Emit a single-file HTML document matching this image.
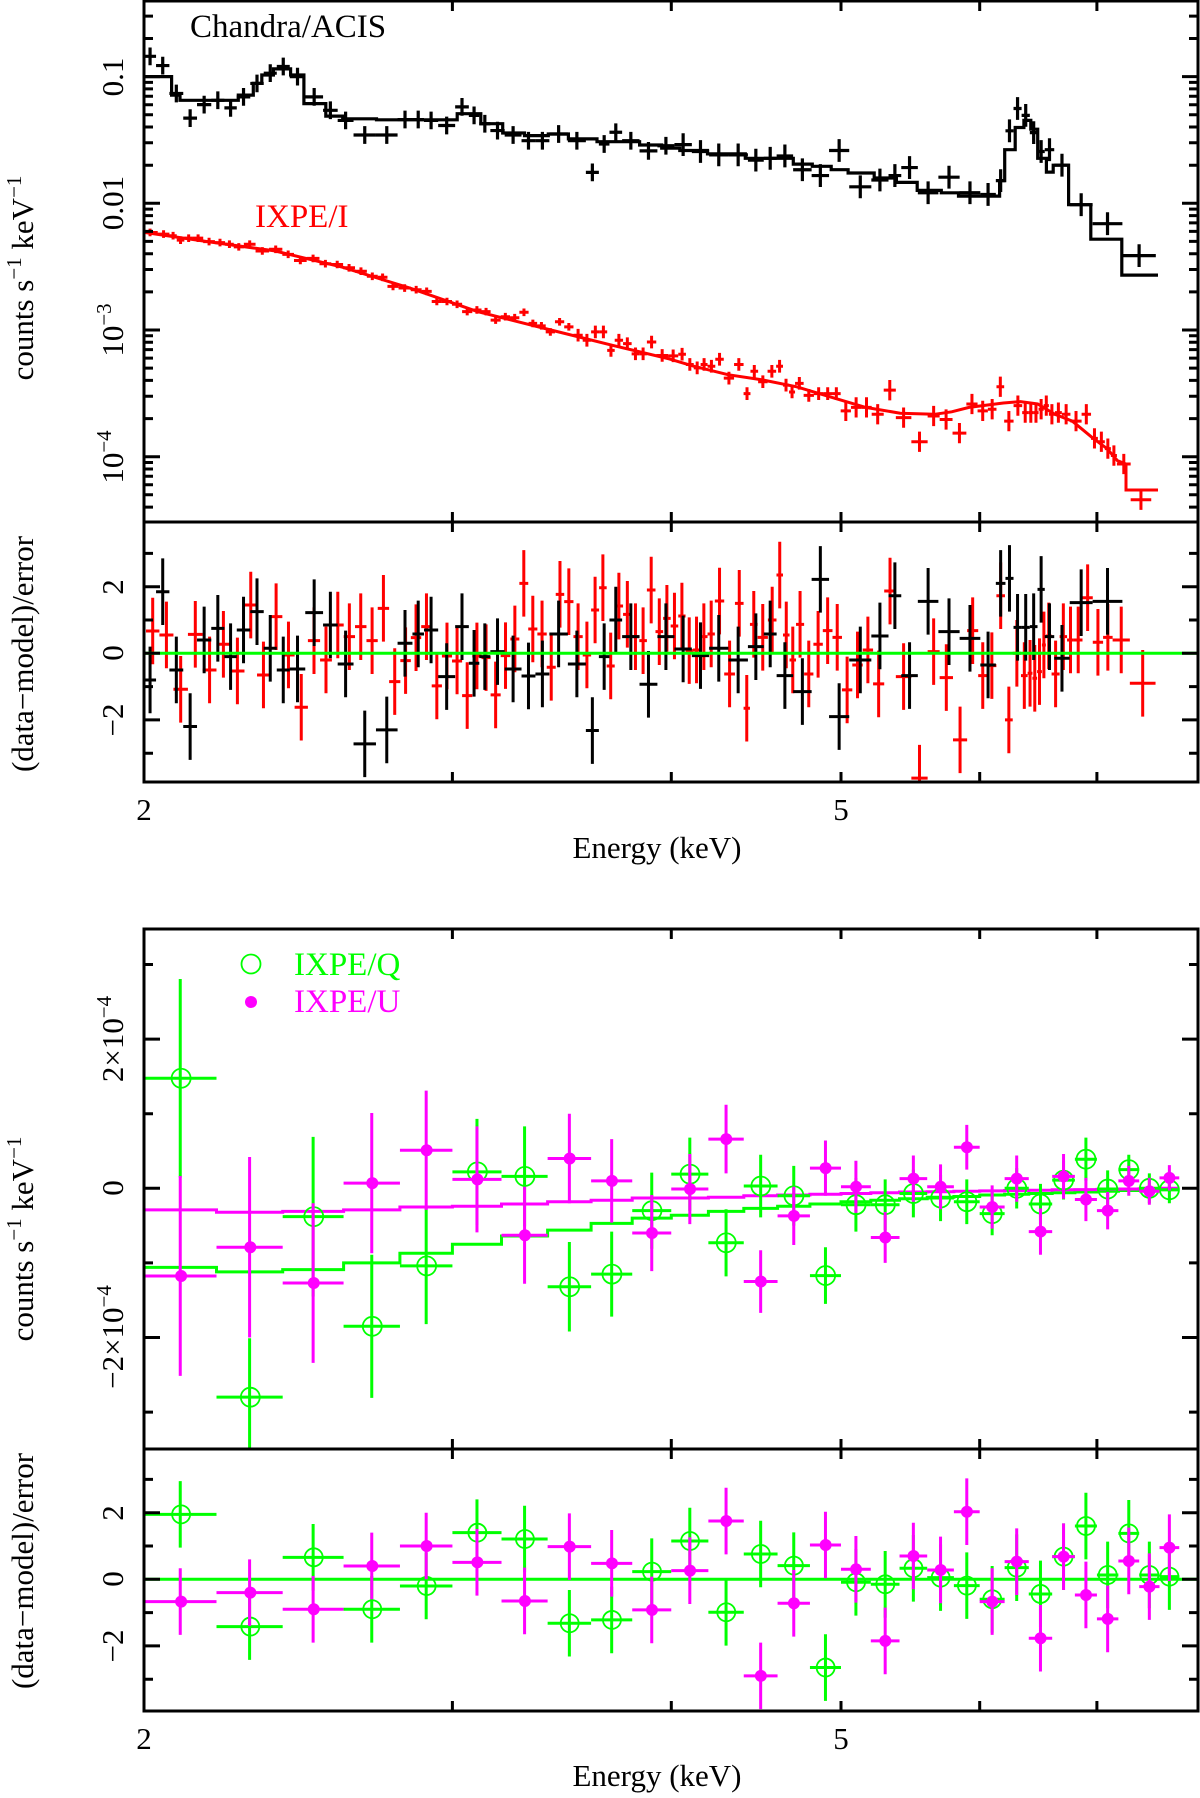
<!DOCTYPE html>
<html><head><meta charset="utf-8">
<style>
html,body{margin:0;padding:0;background:#fff;}
svg{display:block;font-family:"Liberation Serif",serif;}
</style></head>
<body>
<svg id="chart" width="1200" height="1798" viewBox="0 0 1200 1798" xmlns="http://www.w3.org/2000/svg">
<defs>
<clipPath id="cTop"><rect x="144" y="1" width="1054" height="521"/></clipPath>
<clipPath id="cR1"><rect x="144" y="522" width="1054" height="260"/></clipPath>
<clipPath id="cBot"><rect x="144" y="929" width="1054" height="520"/></clipPath>
<clipPath id="cR2"><rect x="144" y="1449" width="1054" height="262"/></clipPath>
</defs>
<g id="gTop" clip-path="url(#cTop)"></g>
<g id="gR1" clip-path="url(#cR1)"></g>
<g id="gBot" clip-path="url(#cBot)"></g>
<g id="gR2" clip-path="url(#cR2)"></g>
<g id="gAxes"></g>

<text x="190" y="37" font-size="33" fill="#000">Chandra/ACIS</text>
<text x="255" y="227" font-size="33" fill="#f00">IXPE/I</text>

<g font-size="31">
<text transform="translate(123,77) rotate(-90)" text-anchor="middle">0.1</text>
<text transform="translate(123,203) rotate(-90)" text-anchor="middle">0.01</text>
<text transform="translate(123,330) rotate(-90)" text-anchor="middle">10<tspan font-size="21" dy="-12">−3</tspan></text>
<text transform="translate(123,457) rotate(-90)" text-anchor="middle">10<tspan font-size="21" dy="-12">−4</tspan></text>
</g>
<g font-size="31">
<text transform="translate(123,587) rotate(-90)" text-anchor="middle">2</text>
<text transform="translate(123,653) rotate(-90)" text-anchor="middle">0</text>
<text transform="translate(123,720) rotate(-90)" text-anchor="middle">−2</text>
</g>
<g font-size="31">
<text transform="translate(123,1039) rotate(-90)" text-anchor="middle">2×10<tspan font-size="21" dy="-12">−4</tspan></text>
<text transform="translate(123,1188) rotate(-90)" text-anchor="middle">0</text>
<text transform="translate(123,1337) rotate(-90)" text-anchor="middle">−2×10<tspan font-size="21" dy="-12">−4</tspan></text>
</g>
<g font-size="31">
<text transform="translate(123,1513) rotate(-90)" text-anchor="middle">2</text>
<text transform="translate(123,1579) rotate(-90)" text-anchor="middle">0</text>
<text transform="translate(123,1646) rotate(-90)" text-anchor="middle">−2</text>
</g>
<g font-size="31">
<text transform="translate(33,278) rotate(-90)" text-anchor="middle">counts s<tspan font-size="21" dy="-12">−1</tspan><tspan dy="12"> keV</tspan><tspan font-size="21" dy="-12">−1</tspan></text>
<text transform="translate(33,654) rotate(-90)" text-anchor="middle">(data−model)/error</text>
<text transform="translate(33,1239) rotate(-90)" text-anchor="middle">counts s<tspan font-size="21" dy="-12">−1</tspan><tspan dy="12"> keV</tspan><tspan font-size="21" dy="-12">−1</tspan></text>
<text transform="translate(33,1571) rotate(-90)" text-anchor="middle">(data−model)/error</text>
</g>
<g font-size="31">
<text x="144" y="820" text-anchor="middle">2</text>
<text x="841" y="820" text-anchor="middle">5</text>
<text x="144" y="1749" text-anchor="middle">2</text>
<text x="841" y="1749" text-anchor="middle">5</text>
</g>
<text x="657" y="858" font-size="31" text-anchor="middle">Energy (keV)</text>
<text x="657" y="1786" font-size="31" text-anchor="middle">Energy (keV)</text>

<g>
<circle cx="251" cy="964" r="9.5" fill="none" stroke="#0f0" stroke-width="1.8"/>
<text x="294" y="975" font-size="33" fill="#0f0">IXPE/Q</text>
<circle cx="251" cy="1002" r="6" fill="#f0f"/>
<text x="294" y="1012" font-size="33" fill="#f0f">IXPE/U</text>
</g>
</svg>
<script>
// ---------- Chandra/ACIS (log10 counts s^-1 keV^-1) ----------
const chE=[2.016,2.048,2.088,2.124,2.165,2.205,2.241,2.278,2.322,2.360,2.403,2.442,2.503,2.559,2.601,2.668,2.759,2.824,2.869,2.911,2.978,3.044,3.087,3.129,3.178,3.249,3.322,3.370,3.446,3.538,3.613,3.661,3.715,3.785,3.889,3.967,4.067,4.153,4.256,4.369,4.480,4.555,4.634,4.757,4.865,4.980,5.130,5.278,5.367,5.458,5.606,5.761,5.928,6.083,6.175,6.239,6.307,6.373,6.445,6.503,6.569,6.667,6.842,7.081,7.399];
const chLog=[-0.840,-0.913,-1.133,-1.328,-1.221,-1.187,-1.247,-1.160,-1.054,-0.973,-0.920,-1.000,-1.160,-1.266,-1.346,-1.461,-1.461,-1.339,-1.339,-1.346,-1.386,-1.239,-1.306,-1.372,-1.426,-1.461,-1.506,-1.506,-1.453,-1.506,-1.756,-1.532,-1.439,-1.506,-1.586,-1.546,-1.537,-1.591,-1.618,-1.618,-1.659,-1.645,-1.626,-1.735,-1.781,-1.583,-1.870,-1.816,-1.781,-1.718,-1.917,-1.794,-1.917,-1.930,-1.821,-1.428,-1.252,-1.306,-1.442,-1.591,-1.577,-1.699,-2.011,-2.161,-2.413];
const chModEdges=[2.0,2.074,2.097,2.264,2.309,2.335,2.371,2.425,2.468,2.540,2.597,2.715,3.019,3.114,3.205,3.298,3.403,3.494,3.628,3.837,3.95,4.045,4.195,4.409,4.696,4.815,4.936,5.047,5.223,5.378,5.527,5.705,5.835,6.159,6.201,6.287,6.359,6.417,6.476,6.550,6.609,6.744,6.944,7.233,7.585];
const chModLog=[-1.000,-1.146,-1.187,-1.146,-1.054,-0.987,-0.939,-0.987,-1.213,-1.312,-1.333,-1.341,-1.293,-1.372,-1.445,-1.466,-1.453,-1.492,-1.514,-1.540,-1.564,-1.583,-1.610,-1.645,-1.691,-1.708,-1.735,-1.761,-1.800,-1.835,-1.898,-1.917,-1.943,-1.821,-1.577,-1.402,-1.346,-1.415,-1.645,-1.754,-1.699,-2.011,-2.283,-2.567];
const chRes=[-0.8,1.85,-0.5,-2.2,0.4,0.75,-0.1,0.7,1.25,0.15,-0.5,-0.47,1.22,0.85,-0.32,-2.72,-2.3,0.3,0.58,0.7,-0.7,0.8,-0.3,-0.1,0.05,-0.47,-0.68,-0.62,0.58,-0.32,-2.32,-0.1,1.0,0.5,-0.93,0.5,0.13,-0.07,0.15,-0.2,0.2,0.58,-0.67,-1.15,2.22,-1.9,-0.2,0.52,1.73,-0.67,1.56,0.65,0.45,-0.35,2.1,2.25,0.78,0.78,0.8,1.92,0.5,-0.15,1.52,1.56];
// ---------- IXPE/I ----------
const ixE=[2.016,2.057,2.079,2.097,2.121,2.145,2.179,2.212,2.238,2.263,2.298,2.334,2.381,2.417,2.455,2.499,2.539,2.578,2.619,2.660,2.702,2.737,2.772,2.818,2.862,2.900,2.939,2.979,3.018,3.059,3.100,3.134,3.175,3.218,3.254,3.298,3.334,3.373,3.410,3.456,3.494,3.541,3.580,3.620,3.661,3.693,3.734,3.775,3.819,3.852,3.896,3.948,4.019,4.055,4.101,4.139,4.176,4.215,4.262,4.310,4.379,4.419,4.459,4.509,4.571,4.612,4.654,4.686,4.728,4.793,4.858,4.913,4.970,5.026,5.106,5.165,5.247,5.331,5.417,5.553,5.654,5.731,5.849,5.943,6.024,6.106,6.162,6.231,6.316,6.374,6.417,6.461,6.505,6.549,6.594,6.654,6.715,6.806,6.915,6.977,7.041,7.105,7.154,7.219,7.417];
const ixLog=[-2.230,-2.243,-2.256,-2.291,-2.275,-2.275,-2.302,-2.310,-2.323,-2.344,-2.323,-2.376,-2.363,-2.403,-2.451,-2.435,-2.477,-2.483,-2.509,-2.536,-2.576,-2.584,-2.656,-2.669,-2.682,-2.695,-2.775,-2.775,-2.797,-2.855,-2.842,-2.855,-2.922,-2.895,-2.903,-2.860,-2.948,-2.967,-3.015,-2.935,-2.975,-3.041,-3.081,-3.015,-3.015,-3.161,-3.081,-3.108,-3.188,-3.188,-3.095,-3.201,-3.204,-3.191,-3.272,-3.299,-3.272,-3.286,-3.231,-3.380,-3.272,-3.502,-3.326,-3.408,-3.326,-3.286,-3.435,-3.489,-3.421,-3.516,-3.502,-3.502,-3.502,-3.638,-3.611,-3.611,-3.665,-3.475,-3.692,-3.882,-3.679,-3.706,-3.814,-3.584,-3.638,-3.625,-3.448,-3.719,-3.597,-3.652,-3.652,-3.652,-3.625,-3.597,-3.665,-3.652,-3.665,-3.719,-3.665,-3.855,-3.882,-3.936,-3.991,-4.058,-4.340];
const ixModE=[2.0,2.174,2.375,2.596,2.837,3.100,3.388,3.702,3.99,4.120,4.310,4.509,4.717,4.936,5.165,5.405,5.654,5.783,5.916,6.190,6.331,6.476,6.624,6.776,6.870,6.965,7.093,7.191,7.273,7.273,7.585];
const ixModLog=[-2.230,-2.302,-2.376,-2.504,-2.669,-2.855,-2.988,-3.121,-3.228,-3.286,-3.353,-3.394,-3.448,-3.530,-3.611,-3.657,-3.665,-3.646,-3.611,-3.576,-3.565,-3.584,-3.665,-3.719,-3.787,-3.855,-3.936,-4.031,-4.058,-4.263,-4.263];
const ixrE=[2.023,2.059,2.099,2.139,2.182,2.218,2.263,2.302,2.339,2.381,2.417,2.459,2.503,2.539,2.582,2.619,2.660,2.699,2.740,2.781,2.822,2.859,2.900,2.939,2.979,3.018,3.059,3.100,3.134,3.175,3.218,3.257,3.295,3.334,3.375,3.417,3.456,3.494,3.541,3.580,3.620,3.656,3.693,3.734,3.775,3.819,3.852,3.896,3.940,3.975,4.019,4.055,4.097,4.134,4.176,4.215,4.257,4.320,4.379,4.419,4.453,4.509,4.575,4.612,4.654,4.692,4.734,4.793,4.851,4.913,4.976,5.037,5.113,5.177,5.254,5.331,5.417,5.553,5.654,5.731,5.856,5.948,6.029,6.092,6.175,6.231,6.302,6.368,6.413,6.449,6.492,6.531,6.560,6.630,6.700,6.761,6.822,6.915,7.009,7.105,7.187,7.434];
const ixRes=[0.67,0.55,-1.08,0.57,-0.5,0.27,-0.53,1.45,-0.65,1.1,-0.05,-1.62,0.38,-0.2,0.85,0.5,0.8,0.38,1.35,-0.85,-0.22,0.47,0.8,-0.98,-0.08,-0.23,-1.27,-0.08,-0.13,-1.25,-0.07,0.43,2.1,0.73,0.58,-0.42,1.77,1.55,0.5,-0.05,1.3,1.97,-0.38,1.42,1.17,0.5,0.38,1.9,0.65,1.05,0.82,1.12,0.08,0.1,0.5,0.58,1.57,-0.62,1.5,-1.65,0.87,0.48,1.0,2.35,0.55,-0.2,0.87,-0.62,0.27,0.68,0.48,-1.1,-0.35,0.1,-0.92,1.87,-0.7,-3.75,0.05,-0.73,-2.6,0.68,-0.67,-0.37,1.73,-2.0,0.0,-0.67,-0.6,-0.75,-0.55,0.25,0.52,-0.62,0.5,0.4,0.4,1.67,0.33,0.48,0.4,-0.9];
// ---------- IXPE Q / U (units of 1e-4) ----------
const quE=[2.1,2.3,2.5,2.7,2.9,3.1,3.3,3.5,3.7,3.9,4.1,4.3,4.5,4.7,4.9,5.1,5.3,5.5,5.7,5.9,6.1,6.3,6.5,6.7,6.9,7.1,7.3,7.5,7.7];
const qVal=[1.475,-2.80,-0.38,-1.85,-1.04,0.22,0.16,-1.32,-1.15,-0.30,0.19,-0.73,0.03,-0.10,-1.17,-0.22,-0.22,-0.07,-0.13,-0.18,-0.34,0,-0.21,0.11,0.39,-0.01,0.25,0,-0.02];
const qErr=[1.33,0.79,1.07,0.96,0.78,0.71,0.67,0.60,0.57,0.51,0.49,0.45,0.42,0.40,0.38,0.36,0.34,0.32,0.31,0.30,0.29,0.27,0.27,0.26,0.29,0.25,0.20,0.20,0.18];
const uVal=[-1.175,-0.79,-1.27,0.07,0.51,0.12,-0.63,0.40,0.10,-0.60,-0.01,0.66,-1.25,-0.37,0.27,0.02,-0.66,0.13,0.02,0.55,-0.25,0.13,-0.58,0.16,-0.15,-0.30,0.10,-0.04,0.14];
const uErr=[1.34,1.21,1.07,0.94,0.80,0.71,0.65,0.60,0.56,0.51,0.47,0.46,0.42,0.39,0.37,0.35,0.34,0.31,0.30,0.30,0.29,0.31,0.31,0.30,0.29,0.25,0.20,0.18,0.17];
const qMod=[-1.06,-1.12,-1.09,-1.0,-0.87,-0.75,-0.64,-0.56,-0.47,-0.40,-0.36,-0.31,-0.27,-0.24,-0.21,-0.18,-0.16,-0.14,-0.12,-0.11,-0.09,-0.08,-0.07,-0.06,-0.05,-0.04,-0.03,-0.02,-0.02];
const uMod=[-0.29,-0.32,-0.31,-0.29,-0.25,-0.24,-0.21,-0.18,-0.16,-0.13,-0.13,-0.12,-0.10,-0.09,-0.08,-0.07,-0.06,-0.05,-0.045,-0.04,-0.035,-0.03,-0.025,-0.02,-0.018,-0.015,-0.01,-0.005,0];
const qRes=[1.95,-1.42,0.66,-0.9,-0.2,1.4,1.21,-1.32,-1.22,0.23,1.15,-0.99,0.76,0.41,-2.65,-0.09,-0.15,0.33,0.05,-0.19,-0.6,0.35,-0.44,0.68,1.6,0.13,1.38,0.13,0.08];
const uRes=[-0.67,-0.4,-0.9,0.4,1.0,0.51,-0.65,0.98,0.48,-0.92,0.26,1.75,-2.9,-0.72,1.03,0.3,-1.85,0.7,0.28,2.03,-0.67,0.53,-1.77,0.68,-0.47,-1.19,0.55,-0.22,0.95];
const xTicks=[3,4,5,6,7];

// ---------- axes functions ----------
const X=e=>144+Math.log10(e/2)*1751.5;
const YT=l=>203.3-(l+2)*126.7;
const YR1=r=>653.3-r*33.3;
const YB=v=>1188.3-v*74.6;
const YR2=r=>1579.3-r*33.3;
const NS='http://www.w3.org/2000/svg';
function mk(tag,attrs,parent){const el=document.createElementNS(NS,tag);for(const k in attrs)el.setAttribute(k,attrs[k]);parent.appendChild(el);return el;}
function halfW(arr,i){const l=Math.log10(arr[i]);const p=i>0?Math.log10(arr[i-1]):null;const n=i<arr.length-1?Math.log10(arr[i+1]):null;
  const lo=p!==null?(l+p)/2:l-(n-l)/2; const hi=n!==null?(l+n)/2:l+(l-p)/2; return [2*Math.pow(10,lo),2*Math.pow(10,hi)].map(v=>v/2);}
function cross(g,x1,x2,y,yt,yb,color,w,name){
  const p=mk('path',{d:`M${x1},${y}H${x2}M${(x1+x2)/2},${yt}V${yb}`,stroke:color,'stroke-width':w,fill:'none'},g);
  
  
  return p;}
const gTop=document.getElementById('gTop'),gR1=document.getElementById('gR1'),gBot=document.getElementById('gBot'),gR2=document.getElementById('gR2'),gAx=document.getElementById('gAxes');

// ---------- top panel ----------
(function(){
  let d='';
  for(let i=0;i<ixModE.length;i++){d+=(i?'L':'M')+X(ixModE[i]).toFixed(1)+','+YT(ixModLog[i]).toFixed(1);}
  const m=mk('path',{d:d,stroke:'#f00','stroke-width':3,fill:'none'},gTop);
  
  
  ixE.forEach((e,i)=>{const [a,b]=halfW(ixE,i);const err=e<3.5?0.03:(e<5?0.05:0.08);
    const xm=X(e);cross(gTop,X(a),X(b),YT(ixLog[i]),YT(ixLog[i]+err),YT(ixLog[i]-err),'#f00',3,'ixpe-i-point');});
  let s='';
  for(let i=0;i<chModLog.length&&i+1<chModEdges.length;i++){const y=YT(chModLog[i]).toFixed(1);
    s+=(i?'L':'M')+X(chModEdges[i]).toFixed(1)+','+y+'L'+X(chModEdges[i+1]).toFixed(1)+','+y;}
  const cm=mk('path',{d:s,stroke:'#000','stroke-width':3.2,fill:'none'},gTop);
  
  
  chE.forEach((e,i)=>{const [a,b]=halfW(chE,i);const err=e<4?0.07:0.09;
    cross(gTop,X(a),X(b),YT(chLog[i]),YT(chLog[i]+err),YT(chLog[i]-err),'#000',3.2,'chandra-point');});
})();
// ---------- residual panel 1 ----------
(function(){
  ixrE.forEach((e,i)=>{const [a,b]=halfW(ixrE,i);cross(gR1,X(a),X(b),YR1(ixRes[i]),YR1(ixRes[i]+1),YR1(ixRes[i]-1),'#f00',3,'ixpe-i-residual');});
  chE.forEach((e,i)=>{if(i>=chRes.length)return;const [a,b]=halfW(chE,i);cross(gR1,X(a),X(b),YR1(chRes[i]),YR1(chRes[i]+1),YR1(chRes[i]-1),'#000',3,'chandra-residual');});
  const z=mk('line',{x1:144,x2:1198,y1:YR1(0),y2:YR1(0),stroke:'#0f0','stroke-width':3},gR1);
  
  
})();
// ---------- Q/U panel ----------
(function(){
  function step(vals,color,name){let s='';vals.forEach((v,i)=>{const y=YB(v).toFixed(1);s+=(i?'L':'M')+X(quE[i]-0.1).toFixed(1)+','+y+'L'+X(quE[i]+0.1).toFixed(1)+','+y;});
    const p=mk('path',{d:s,stroke:color,'stroke-width':3,fill:'none'},gBot);}
  step(qMod,'#0f0','q-model');step(uMod,'#f0f','u-model');
  quE.forEach((e,i)=>{
    cross(gBot,X(e-0.1),X(e+0.1),YB(qVal[i]),YB(qVal[i]+qErr[i]),YB(qVal[i]-qErr[i]),'#0f0',3,'q-point');
    const c=mk('circle',{cx:X(e),cy:YB(qVal[i]),r:9.5,fill:'none',stroke:'#0f0','stroke-width':1.8},gBot);
    
    
  });
  quE.forEach((e,i)=>{
    cross(gBot,X(e-0.1),X(e+0.1),YB(uVal[i]),YB(uVal[i]+uErr[i]),YB(uVal[i]-uErr[i]),'#f0f',3,'u-point');
    const c=mk('circle',{cx:X(e),cy:YB(uVal[i]),r:6,fill:'#f0f'},gBot);
    
    
  });
})();
// ---------- residual panel 2 ----------
(function(){
  const z=mk('line',{x1:144,x2:1198,y1:YR2(0),y2:YR2(0),stroke:'#0f0','stroke-width':3},gR2);
  
  
  quE.forEach((e,i)=>{
    cross(gR2,X(e-0.1),X(e+0.1),YR2(qRes[i]),YR2(qRes[i]+1),YR2(qRes[i]-1),'#0f0',3,'q-residual');
    const c=mk('circle',{cx:X(e),cy:YR2(qRes[i]),r:9,fill:'none',stroke:'#0f0','stroke-width':1.8},gR2);
    
    
  });
  quE.forEach((e,i)=>{
    cross(gR2,X(e-0.1),X(e+0.1),YR2(uRes[i]),YR2(uRes[i]+1),YR2(uRes[i]-1),'#f0f',3,'u-residual');
    const c=mk('circle',{cx:X(e),cy:YR2(uRes[i]),r:6,fill:'#f0f'},gR2);
    
    
  });
})();
// ---------- axes, frames & ticks ----------
(function(){
  let d='';
  const panels=[[1,522],[522,782],[929,1449],[1449,1711]];
  panels.forEach(p=>{xTicks.forEach(t=>{const x=X(t).toFixed(1);d+=`M${x},${p[0]}v10M${x},${p[1]}v-10`;});});
  for(let dec=-5;dec<=0;dec++){for(let m=1;m<=9;m++){const l=dec+Math.log10(m);const y=YT(l);if(y<2||y>521)continue;const L=m===1?16:9;d+=`M144,${y.toFixed(1)}h${L}M1198,${y.toFixed(1)}h${-L}`;}}
  for(let r=-3;r<=3;r++){const L=r%2===0?16:9;[YR1(r),YR2(r)].forEach(y=>{d+=`M144,${y.toFixed(1)}h${L}M1198,${y.toFixed(1)}h${-L}`;});}
  for(let v=-3;v<=3;v++){const L=v%2===0?16:9;const y=YB(v);d+=`M144,${y.toFixed(1)}h${L}M1198,${y.toFixed(1)}h${-L}`;}
  const t=mk('path',{d:d,stroke:'#000','stroke-width':3,fill:'none'},gAx);
  
  
  [[1,782],[929,1711]].forEach((p,i)=>{
    const r=mk('rect',{x:144,y:p[0],width:1054,height:p[1]-p[0],fill:'none',stroke:'#000','stroke-width':3},gAx);
    
    
  });
  [522,1449].forEach(y=>{const l=mk('line',{x1:144,x2:1198,y1:y,y2:y,stroke:'#000','stroke-width':3},gAx);
    
    });
})();
</script>
</body></html>
